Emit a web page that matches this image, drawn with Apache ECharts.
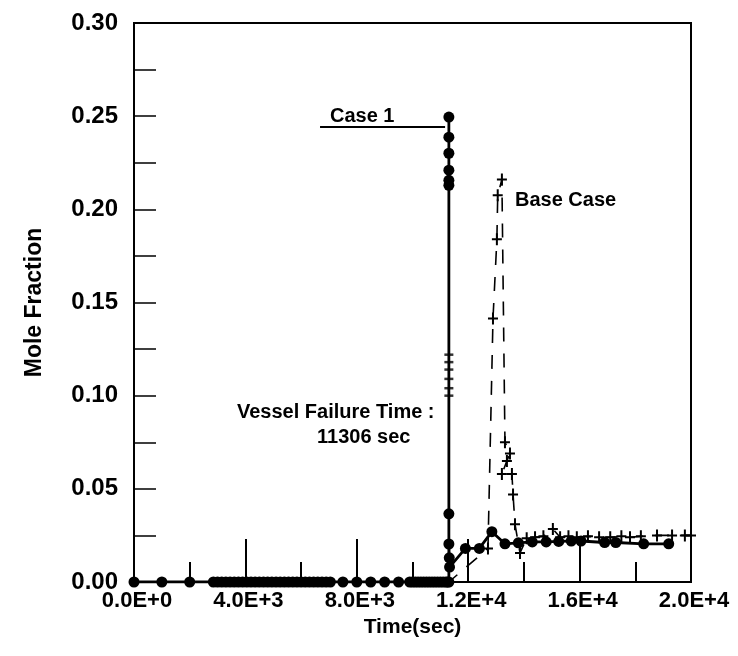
<!DOCTYPE html>
<html><head><meta charset="utf-8">
<script src="https://cdn.jsdelivr.net/npm/echarts@6/dist/echarts.min.js"></script>
<style>html,body{margin:0;padding:0;background:#fff}#c{width:738px;height:656px}</style>
</head><body><div id="c"></div>
<script>
// ---- data ----
const xMin = 0, xMax = 20000, xStep = 4000;
const yMin = 0, yMax = 0.30, yStep = 0.05;

// Case 1 (solid line, filled circles)
const case1Time = [0, 1000, 2000,
  2850, 3000, 3150, 3300, 3450, 3600, 3750, 3900, 4050, 4200, 4350, 4500, 4650, 4800, 4950,
  5100, 5250, 5400, 5550, 5700, 5850, 6000, 6150, 6300, 6450, 6600, 6750, 6900, 7050,
  7500, 8000, 8500, 9000, 9500,
  9900, 10000, 10100, 10200, 10300, 10400, 10500, 10600, 10700, 10800, 10900, 11000, 11100, 11200, 11260,
  11306, 11306, 11306, 11306, 11306, 11306, 11306,
  11306, 11306, 11320, 11330,
  11900, 12400, 12850, 13320, 13800, 14300, 14800, 15250, 15700, 16050, 16900, 17300, 18300, 19200];
const case1Value = [0, 0, 0,
  0, 0, 0, 0, 0, 0, 0, 0, 0, 0, 0, 0, 0, 0, 0,
  0, 0, 0, 0, 0, 0, 0, 0, 0, 0, 0, 0, 0, 0,
  0, 0, 0, 0, 0,
  0, 0, 0, 0, 0, 0, 0, 0, 0, 0, 0, 0, 0, 0, 0,
  0.0, 0.2129, 0.2156, 0.2210, 0.2301, 0.2387, 0.2495,
  0.0366, 0.0204, 0.0130, 0.0080,
  0.0180, 0.0180, 0.0270, 0.0205, 0.0210, 0.0215, 0.0215, 0.0218, 0.0220, 0.0220, 0.0212, 0.0212, 0.0205, 0.0205];

// short hash marks crossing the Case 1 vertical line
const hashTime = [11306, 11306, 11306, 11306, 11306, 11306];
const hashValue = [0.122, 0.118, 0.114, 0.109, 0.104, 0.100];

// Base Case (dashed line, + markers)
const baseTime = [0, 11306, 12710, 12890, 13030, 13060, 13210,
  13320, 13500, 13390, 13210, 13570, 13610, 13680, 13860,
  14100, 14400, 14700, 15040, 15300, 15600, 15900, 16300, 16700, 17100, 17500, 17810, 18200, 18780, 19320, 19780, 20000];
const baseValue = [0, 0, 0.018, 0.1414, 0.184, 0.2075, 0.216,
  0.075, 0.069, 0.065, 0.058, 0.058, 0.047, 0.031, 0.0156,
  0.0235, 0.0240, 0.0245, 0.0285, 0.0240, 0.0245, 0.0240, 0.0245, 0.0240, 0.0240, 0.0245, 0.0240, 0.0245, 0.0250, 0.0250, 0.0250, 0.0250];

// annotation texts
const case1Label = 'Case 1';
const baseLabel = 'Base Case';
const vesselLabel1 = 'Vessel Failure Time :';
const vesselLabel2 = '11306 sec';
const xName = 'Time(sec)';
const yName = 'Mole Fraction';
// leader line under "Case 1" (data coordinates)
const leaderStart = [6680, 0.2445];
const leaderEnd = [11170, 0.2445];

// ---- chart ----
const FONT = '"Liberation Sans", Arial, Helvetica, sans-serif';
function sci(v) {
  if (v === 0) return '0.0E+0';
  const e = Math.floor(Math.log10(v) + 1e-9);
  return (v / Math.pow(10, e)).toFixed(1) + 'E+' + e;
}
const plus = 'path://M4,0h2v5h4v2h-4v5h-2v-5h-4v-2h4z';

const case1Data = case1Time.map((t, i) => [t, case1Value[i]]);
const hashData = hashTime.map((t, i) => [t, hashValue[i]]);
const baseData = baseTime.map((t, i) => {
  const item = { value: [t, baseValue[i]] };
  if (baseValue[i] === 0) item.symbol = 'none';
  return item;
});

const chart = echarts.init(document.getElementById('c'), null, { renderer: 'canvas' });
chart.setOption({
  animation: false,
  backgroundColor: '#fff',
  grid: { left: 134, right: 47, top: 23, bottom: 74, show: true, borderColor: '#000', borderWidth: 2, backgroundColor: 'transparent' },
  textStyle: { fontFamily: FONT },
  xAxis: {
    type: 'value', min: xMin, max: xMax, interval: xStep,
    name: xName, nameLocation: 'middle', nameGap: 25,
    nameTextStyle: { fontSize: 21, fontWeight: 'bold', color: '#000', fontFamily: FONT },
    axisLine: { show: true, onZero: false, lineStyle: { color: '#000', width: 2 } },
    axisTick: { show: true, inside: true, length: 43, lineStyle: { color: '#000', width: 2 } },
    minorTick: { show: true, splitNumber: 2, length: 20, lineStyle: { color: '#000', width: 2 } },
    axisLabel: { formatter: sci, fontSize: 22, fontWeight: 'bold', color: '#000', margin: 8, padding: [0, 0, 0, 6], fontFamily: FONT },
    splitLine: { show: false }
  },
  yAxis: {
    type: 'value', min: yMin, max: yMax, interval: yStep,
    name: yName, nameLocation: 'middle', nameGap: 88, nameRotate: 90,
    nameTextStyle: { fontSize: 23, fontWeight: 'bold', color: '#000', fontFamily: FONT, padding: [0, 0, 0, 0] },
    axisLine: { show: true, lineStyle: { color: '#000', width: 2 } },
    axisTick: { show: true, inside: true, length: 22, lineStyle: { color: '#000', width: 1.5 } },
    minorTick: { show: true, splitNumber: 2, length: 22, lineStyle: { color: '#000', width: 1.5 } },
    axisLabel: { formatter: v => v.toFixed(2), fontSize: 24, fontWeight: 'bold', color: '#000', margin: 16, fontFamily: FONT },
    splitLine: { show: false }
  },
  series: [
    {
      name: 'Base Case', type: 'line', data: baseData, z: 3,
      symbol: plus, symbolSize: [10, 12],
      itemStyle: { color: '#000' },
      lineStyle: { color: '#000', width: 1.6, type: [14, 12] }
    },
    {
      name: 'Case 1', type: 'line', data: case1Data, z: 4,
      symbol: 'circle', symbolSize: 11,
      itemStyle: { color: '#000' },
      lineStyle: { color: '#000', width: 2.8 },
      markLine: {
        silent: true, symbol: 'none',
        lineStyle: { color: '#000', width: 2, type: 'solid' },
        label: { show: false },
        data: [[{ coord: leaderStart }, { coord: leaderEnd }]]
      }
    },
    {
      name: 'hash', type: 'scatter', data: hashData, z: 5,
      symbol: 'rect', symbolSize: [9, 2.5],
      itemStyle: { color: '#000' }
    }
  ],
  graphic: [
    { type: 'text', left: 330, top: 106, style: { text: case1Label, font: 'bold 20px ' + FONT, fill: '#000' } },
    { type: 'text', left: 515, top: 190, style: { text: baseLabel, font: 'bold 20px ' + FONT, fill: '#000' } },
    { type: 'text', left: 237, top: 402, style: { text: vesselLabel1, font: 'bold 20px ' + FONT, fill: '#000' } },
    { type: 'text', left: 317, top: 427, style: { text: vesselLabel2, font: 'bold 20px ' + FONT, fill: '#000' } }
  ]
});
</script></body></html>
